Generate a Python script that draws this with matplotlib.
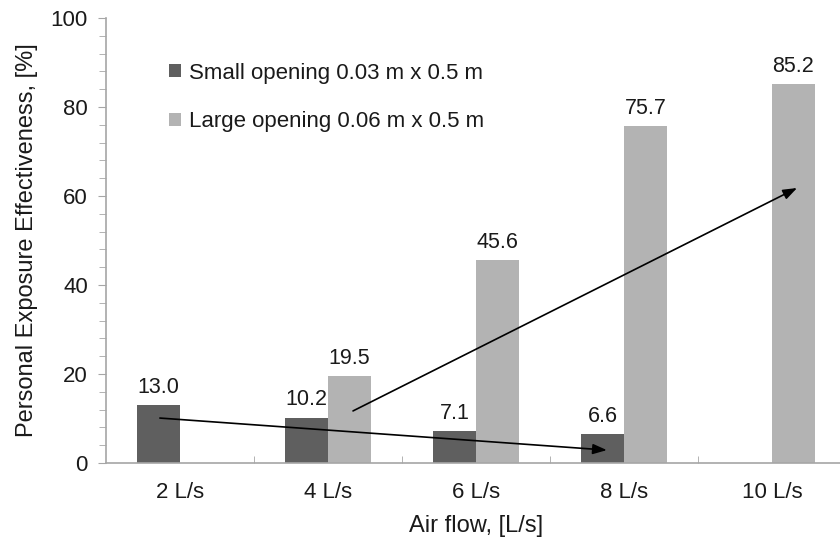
import matplotlib
matplotlib.use("Agg")
import matplotlib.pyplot as plt
import numpy as np

plt.rcParams["font.family"] = ["Liberation Sans", "DejaVu Sans"]

# data
flows = ["2 L/s", "4 L/s", "6 L/s", "8 L/s", "10 L/s"]
small = [13.0, 10.2, 7.1, 6.6, np.nan]
large = [np.nan, 19.5, 45.6, 75.7, 85.2]
small_name = "Small opening 0.03 m x 0.5 m"
large_name = "Large opening 0.06 m x 0.5 m"
# trend arrows (start x, start y, end x, end y) in data units
arrow_small = (-0.135, 10.1, 2.885, 2.9)
arrow_large = (1.17, 11.7, 4.17, 61.8)

dark = "#5f5f5f"
light = "#b3b3b3"
axis_col = "#a6a6a6"
txt = "#1a1a1a"

fig = plt.figure(figsize=(8.4, 5.4), dpi=100)
ax = fig.add_axes([0.126, 0.1426, 0.881, 0.824])

x = np.arange(len(flows))
w = 0.29
ax.bar(x - w / 2, small, w, color=dark, label=small_name)
ax.bar(x + w / 2, large, w, color=light, label=large_name)

for xi, v in zip(x - w / 2, small):
    if not np.isnan(v):
        ax.text(xi, v + 1.6, f"{v:.1f}", ha="center", va="bottom", fontsize=15.5, color=txt)
for xi, v in zip(x + w / 2, large):
    if not np.isnan(v):
        ax.text(xi, v + 1.6, f"{v:.1f}", ha="center", va="bottom", fontsize=15.5, color=txt)

for a in (arrow_small, arrow_large):
    ax.annotate("", xy=(a[2], a[3]), xytext=(a[0], a[1]),
                arrowprops=dict(arrowstyle="-|>,head_length=0.6,head_width=0.22", color="black", lw=1.2,
                                mutation_scale=14, shrinkA=0, shrinkB=0))

ax.set_xlim(-0.5, 4.5)
ax.set_ylim(0, 100)
ax.set_yticks(np.arange(0, 101, 20))
ax.set_yticks(np.arange(0, 101, 4), minor=True)
ax.set_xticks(x)
ax.set_xticklabels(flows)
ax.set_xticks(np.arange(0.5, 4.5, 1), minor=True)

for s in ("top", "right"):
    ax.spines[s].set_visible(False)
ax.spines["left"].set_color(axis_col)
ax.spines["bottom"].set_color(axis_col)
ax.spines["left"].set_linewidth(1.2)
ax.spines["bottom"].set_linewidth(1.2)

ax.tick_params(axis="y", which="major", length=6, color=axis_col, labelsize=16, pad=7, labelcolor=txt)
ax.tick_params(axis="y", which="minor", length=5, color=axis_col)
ax.tick_params(axis="x", which="major", length=0, labelsize=16, pad=14, labelcolor=txt)
ax.tick_params(axis="x", which="minor", direction="in", length=5, color=axis_col)

ax.set_ylabel("Personal Exposure Effectiveness, [%]", fontsize=17, color=txt, labelpad=9)
ax.set_xlabel("Air flow, [L/s]", fontsize=17, color=txt, labelpad=8)

ax.legend(loc="upper left", bbox_to_anchor=(0.058, 0.945), frameon=False, fontsize=16,
          handlelength=0.55, handleheight=0.55, handletextpad=0.35, labelspacing=1.25,
          labelcolor=txt)

fig.savefig("out.png", dpi=100)
